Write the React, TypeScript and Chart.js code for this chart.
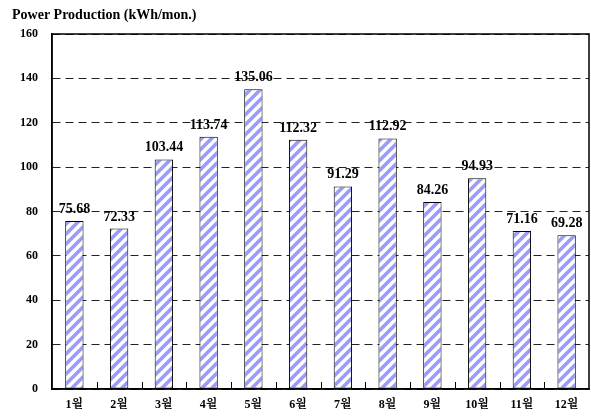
import React, { useEffect, useRef } from "react";
import { Chart, registerables } from "chart.js";

Chart.register(...registerables);

const months = ["1월", "2월", "3월", "4월", "5월", "6월", "7월", "8월", "9월", "10월", "11월", "12월"];
const production = [75.68, 72.33, 103.44, 113.74, 135.06, 112.32, 91.29, 112.92, 84.26, 94.93, 71.16, 69.28];
const titleText = "Power Production (kWh/mon.)";

const SERIF = '"Liberation Serif", "Times New Roman", "Noto Serif CJK KR", "Noto Sans CJK KR", serif';

function makeStripePattern(): CanvasPattern | string {
  const size = 10;
  const tile = document.createElement("canvas");
  tile.width = size;
  tile.height = size;
  const c = tile.getContext("2d");
  if (!c) return "#9c9cff";
  c.fillStyle = "#ffffff";
  c.fillRect(0, 0, size, size);
  c.strokeStyle = "#9a9aff";
  c.lineWidth = 3.6;
  c.lineCap = "square";
  const segs = [
    [-size, size, size, -size],
    [0, size, size, 0],
    [0, 2 * size, 2 * size, 0],
  ];
  for (const [x1, y1, x2, y2] of segs) {
    c.beginPath();
    c.moveTo(x1, y1);
    c.lineTo(x2, y2);
    c.stroke();
  }
  const p = c.createPattern(tile, "repeat");
  return p || "#9c9cff";
}

const framePlugin = {
  id: "frame",
  afterDatasetsDraw(chart: any) {
    const { ctx, chartArea } = chart;
    const x = chart.scales.x;
    ctx.save();
    // inward tick marks at category boundaries
    ctx.strokeStyle = "#000";
    ctx.lineWidth = 1;
    ctx.beginPath();
    for (let i = 0; i < months.length - 1; i++) {
      const bx = Math.round((x.getPixelForTick(i) + x.getPixelForTick(i + 1)) / 2) + 0.5;
      ctx.moveTo(bx, chartArea.bottom);
      ctx.lineTo(bx, chartArea.bottom - 7);
    }
    ctx.stroke();
    // plot box
    ctx.lineWidth = 1.5;
    ctx.strokeRect(chartArea.left, chartArea.top, chartArea.right - chartArea.left, chartArea.bottom - chartArea.top);
    // value labels
    ctx.fillStyle = "#000";
    ctx.font = `bold 14px ${SERIF}`;
    ctx.textAlign = "center";
    ctx.textBaseline = "alphabetic";
    const meta = chart.getDatasetMeta(0);
    meta.data.forEach((bar: any, i: number) => {
      ctx.fillText(production[i].toFixed(2), bar.x, bar.y - 8);
    });
    // title
    ctx.textAlign = "left";
    ctx.textBaseline = "middle";
    ctx.font = `bold 14px ${SERIF}`;
    ctx.fillText(titleText, 12, 15);
    ctx.restore();
  },
};

export default function App() {
  const canvasRef = useRef<HTMLCanvasElement | null>(null);

  useEffect(() => {
    document.body.style.margin = "0";
    const canvas = canvasRef.current;
    if (!canvas) return;
    const chart = new Chart(canvas, {
      type: "bar",
      data: {
        labels: months,
        datasets: [
          {
            data: production,
            backgroundColor: makeStripePattern() as any,
            borderColor: "#000",
            borderWidth: 1,
            borderSkipped: false,
            categoryPercentage: 1,
            barPercentage: 0.41,
          },
        ],
      },
      options: {
        animation: false,
        responsive: false,
        devicePixelRatio: 1,
        layout: { padding: { top: 34, right: 2, left: 0, bottom: 0 } },
        plugins: {
          legend: { display: false },
          tooltip: { enabled: false },
          title: { display: false },
        },
        scales: {
          x: {
            grid: { display: false, drawTicks: false },
            border: { display: true, color: "#000", width: 1.5 },
            ticks: {
              color: "#000",
              padding: 9,
              font: { family: SERIF, size: 12, weight: "bold" },
              maxRotation: 0,
              autoSkip: false,
            },
            afterFit(scale: any) {
              scale.height = 27;
            },
          },
          y: {
            min: 0,
            max: 160,
            ticks: {
              stepSize: 20,
              color: "#000",
              padding: 14,
              font: { family: SERIF, size: 12, weight: "bold" },
            },
            grid: { color: "#222", lineWidth: 1, drawTicks: false },
            border: { display: true, color: "#000", width: 1.5, dash: [8, 5] },
            afterFit(scale: any) {
              scale.width = 52;
            },
          },
        },
      },
      plugins: [framePlugin],
    });
    return () => chart.destroy();
  }, []);

  return (
    <div style={{ width: 591, height: 416, background: "#fff" }}>
      <canvas ref={canvasRef} width={591} height={416} style={{ display: "block" }} />
    </div>
  );
}
